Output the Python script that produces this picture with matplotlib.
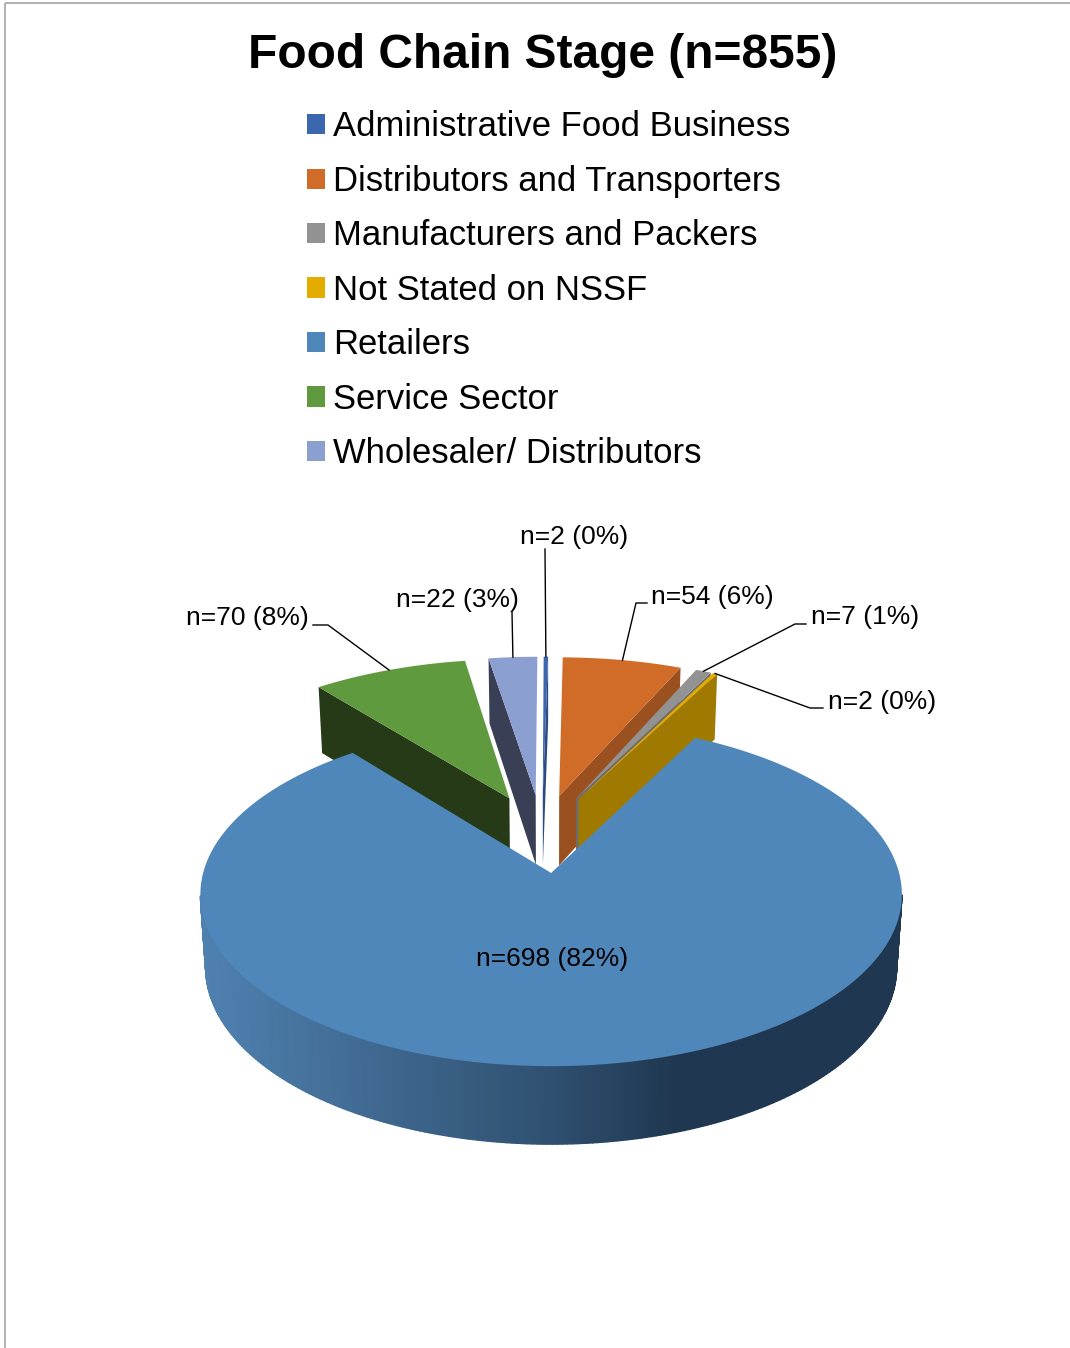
import numpy as np
import matplotlib
matplotlib.use("Agg")
import matplotlib.pyplot as plt
from matplotlib.collections import PolyCollection
from matplotlib.colors import LinearSegmentedColormap
from matplotlib.patches import Patch, Rectangle

plt.rcParams['font.family'] = ['Liberation Sans', 'DejaVu Sans']

# Survey counts per food chain stage, clockwise from 12 o'clock
categories = ['Administrative Food Business', 'Distributors and Transporters',
              'Manufacturers and Packers', 'Not Stated on NSSF', 'Retailers',
              'Service Sector', 'Wholesaler/ Distributors']
counts = [2, 54, 7, 2, 698, 70, 22]
percent_labels = ['0%', '6%', '1%', '0%', '82%', '8%', '3%']
top_colors = ['#3c66ae', '#d06b28', '#929292', '#e5ac00', '#4f87ba', '#5f9a3e', '#8c9fd1']
cut_colors = ['#2c4c80', '#9b501f', '#6d6d6d', '#a07a00', '#2f5070', '#263a18', '#394055']
title = 'Food Chain Stage (n=855)'

# Projection of the pie plane onto the page
APEX_X, APEX_Y = 551.0, 873.0
SCALE_X, SCALE_Y = 348.0, 169.0
PERSPECTIVE = 0.125
DEPTH = 72.0
BASE_SHRINK = 0.985
EXPLODE = 0.245
SLICE_RADIUS = 1.035
SLICE_SHIFT = -0.003


def project(u, v, base=False):
    w = 1 + PERSPECTIVE * v
    x = SCALE_X * u / w
    y = APEX_Y - SCALE_Y * v / w
    if base:
        return APEX_X + BASE_SHRINK * x, y + DEPTH / w ** 0.6
    return APEX_X + x, y


fig = plt.figure(figsize=(10.7, 13.48), dpi=100)
ax = fig.add_axes([0, 0, 1, 1])
ax.set_xlim(0, 1070)
ax.set_ylim(1348, 0)
ax.axis('off')

# Thin chart frame, open past the page edges
ax.add_patch(Rectangle((5, 2.5), 1200, 1500, fill=False, ec='#ababab', lw=1.3, zorder=1))

total = sum(counts)
edges = np.concatenate([[0], np.cumsum(counts)]) * 2 * np.pi / total
centre = np.array([-EXPLODE * np.sin(np.radians(174.4)), -EXPLODE * np.cos(np.radians(174.4))])


def slice_geometry(i):
    mid = 0.5 * (edges[i] + edges[i + 1])
    apex = centre + EXPLODE * np.array([np.sin(mid), np.cos(mid)])
    if categories[i] == 'Retailers':
        return mid, apex, 1.0
    return mid, apex + np.array([SLICE_SHIFT, 0.0]), SLICE_RADIUS


def arc(i, theta):
    _, apex, radius = slice_geometry(i)
    return apex[0] + radius * np.sin(theta), apex[1] + radius * np.cos(theta)


draw_order = [0, 6, 5, 1, 2, 3, 4]
for z, i in enumerate(draw_order):
    mid, apex, radius = slice_geometry(i)
    theta = np.linspace(edges[i], edges[i + 1], 400)
    u, v = arc(i, theta)
    tx, ty = project(np.r_[apex[0], u], np.r_[apex[1], v])
    zorder = 3 + z

    if categories[i] == 'Retailers':
        # Curved rim shaded from left to right, between the widest points of the ellipse
        keep = (theta > np.radians(97)) & (theta < np.radians(263))
        ux, vx = u[keep], v[keep]
        t0x, t0y = project(ux, vx)
        b0x, b0y = project(ux, vx, base=True)
        quads = [[(t0x[k], t0y[k]), (t0x[k + 1], t0y[k + 1]),
                  (b0x[k + 1], b0y[k + 1]), (b0x[k], b0y[k])] for k in range(len(ux) - 1)]
        shade = 0.5 * (t0x[:-1] + t0x[1:])
        rim_cmap = LinearSegmentedColormap.from_list(
            'rim', [(0.0, '#4f81b0'), (0.5, '#2f5070'), (0.68, '#1f3750'), (1.0, '#1f3750')])
        rim = PolyCollection(quads, cmap=rim_cmap, zorder=zorder, linewidths=1.0)
        rim.set_array(shade)
        rim.set_clim(200, 902)
        rim.set_edgecolor('face')
        ax.add_collection(rim)
    else:
        # Exposed cut face on the side turned toward the viewer
        edge = edges[i + 1] if mid < np.pi else edges[i]
        eu, ev = arc(i, edge)
        fu = np.array([apex[0], eu])
        fv = np.array([apex[1], ev])
        x0, y0 = project(fu, fv)
        x1, y1 = project(fu, fv, base=True)
        ax.fill([x0[0], x0[1], x1[1], x1[0]], [y0[0], y0[1], y1[1], y1[0]],
                color=cut_colors[i], lw=0, zorder=zorder)

    ax.fill(tx, ty, color=top_colors[i], lw=0, zorder=zorder + 0.5)

# Data labels: text position and the elbow of each leader line
label_text = [f'n={c} ({p})' for c, p in zip(counts, percent_labels)]
label_pos = [(574, 537), (712, 597), (865, 617), (882, 702), (552, 959), (247, 618), (457, 600)]
leader_start = [[(545, 549)], [(647, 603), (636, 603)], [(806, 624), (795, 624)],
                [(823, 708), (810, 708)], [], [(313, 625), (328, 625)], [(512, 612)]]

for i, (text, pos) in enumerate(zip(label_text, label_pos)):
    ax.text(pos[0], pos[1], text, fontsize=19, ha='center', va='center', color='black', zorder=20)
    if leader_start[i]:
        mid, _, _ = slice_geometry(i)
        ax_x, ax_y = project(*arc(i, mid))
        xs = [p[0] for p in leader_start[i]] + [ax_x]
        ys = [p[1] for p in leader_start[i]] + [ax_y]
        ax.plot(xs, ys, color='black', lw=1.0, zorder=19)

ax.text(542.5, 56, title, fontsize=34.5, fontweight='bold', ha='center', va='center')

handles = [Patch(facecolor=c, edgecolor='none') for c in top_colors]
ax.legend(handles, categories, loc='upper left', bbox_to_anchor=(307, 110.5),
          bbox_transform=ax.transData, frameon=False, fontsize=24.9, borderpad=0,
          borderaxespad=0, handlelength=0.52, handleheight=0.52, handletextpad=0.23,
          labelspacing=0.62)

fig.savefig('out.png', dpi=100)
